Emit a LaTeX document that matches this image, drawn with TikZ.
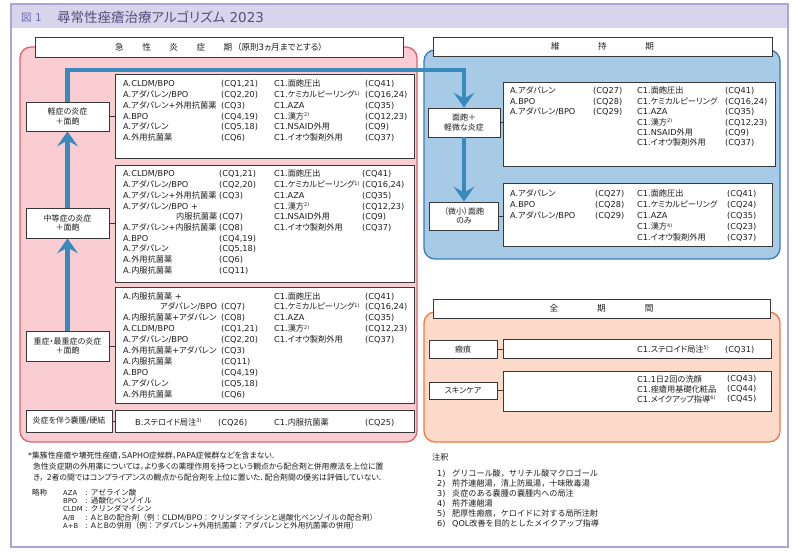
\documentclass[tikz,border=0pt]{standalone}
\usepackage{fontspec}
\setmainfont{DejaVu Sans}
\newfontfamily\cjkfont[RawFeature=+palt]{Noto Sans CJK JP}
\newfontfamily\cjkfontnp{Noto Sans CJK JP}
\XeTeXinterchartokenstate=1
\chardef\cjkcls=11
\newcount\cjkcnt
\def\setcjkrange#1#2{\cjkcnt=#1\relax\loop\XeTeXcharclass\cjkcnt=\cjkcls\relax\advance\cjkcnt by 1\relax\ifnum\cjkcnt<#2\relax\repeat}
\setcjkrange{"3000}{"3100}
\setcjkrange{"3400}{"4DC0}
\setcjkrange{"4E00}{"A000}
\setcjkrange{"FF00}{"FFF0}
\XeTeXinterchartoks 0 \cjkcls = {\begingroup\cjkfont}
\XeTeXinterchartoks 4095 \cjkcls = {\begingroup\cjkfont}
\XeTeXinterchartoks \cjkcls 0 = {\endgroup}
\XeTeXinterchartoks \cjkcls 4095 = {\endgroup}
\usetikzlibrary{arrows.meta}
\definecolor{framec}{HTML}{ADA5D6}
\definecolor{titlebg}{HTML}{D8D4EC}
\definecolor{titleA}{HTML}{6868B4}
\definecolor{titleB}{HTML}{54507A}
\definecolor{pinkbg}{HTML}{F9CDD1}
\definecolor{pinkline}{HTML}{E4606E}
\definecolor{bluebg}{HTML}{A7CBE7}
\definecolor{blueline}{HTML}{3D7AB4}
\definecolor{orangebg}{HTML}{FCD9C9}
\definecolor{orangeline}{HTML}{F27C3E}
\definecolor{arrowc}{HTML}{3A89BD}
\definecolor{boxc}{HTML}{383838}
\definecolor{textc}{HTML}{1E1E1E}
\newcommand\supn[1]{\raisebox{2.6pt}{\fontsize{5}{5}\selectfont #1}}
\newcommand\tcol[5]{\foreach \itm [count=\rowk] in {#5}{\node[txt] (#1-\rowk) at (#2,{#3+(\rowk-1)*#4}) {\itm};}}
\newcommand\acol[6]{\foreach \itm [count=\rowk] in {#6}{\node[#5] (#1-\rowk) at (#2,{#3+(\rowk-1)*#4}) {\itm};}}
\tikzset{
 lbox/.style={draw=boxc, line width=0.9pt, fill=white, inner sep=0pt},
 sbox/.style={draw=boxc, line width=0.9pt, fill=white, inner sep=0pt, align=center, text=textc, font=\fontsize{8}{9.5}\selectfont},
 hdrbox/.style={draw=boxc, line width=0.9pt, fill=white, inner sep=0pt, text=textc, font=\fontsize{8.6}{10}\selectfont},
 txt/.style={anchor=base west, inner sep=0pt, text=textc, font=\fontsize{8.2}{10}\selectfont},
 notetxt/.style={anchor=base west, inner sep=0pt, text=textc, font=\fontsize{7.85}{9}\selectfont},
 abbtxt/.style={anchor=base west, inner sep=0pt, text=textc, font=\let\cjkfont\cjkfontnp\fontsize{7.6}{9}\selectfont},
 abbname/.style={anchor=base west, inner sep=0pt, text=textc, font=\fontsize{6.8}{9}\selectfont},
 remtxt/.style={anchor=base west, inner sep=0pt, text=textc, font=\let\cjkfont\cjkfontnp\fontsize{8.1}{9}\selectfont},
 barrow/.style={draw=arrowc, line width=4.5pt, -{Stealth[length=15pt,width=21pt,inset=6pt]}},
 conn/.style={draw=boxc, line width=0.9pt},
 panel/.style={line width=1.3pt, rounded corners=11pt}
}
\begin{document}
\begin{tikzpicture}[x=1pt,y=-1pt]
\fill[white] (0,0) rectangle (798,556);
\useasboundingbox (0,0) rectangle (798,556);
% outer frame and title
\fill[titlebg] (11,4) rectangle (788,28);
\draw[framec, line width=1.5pt] (11,4) rectangle (788,547);
\node[anchor=base west, inner sep=0pt, text=titleA, font=\fontsize{10.5}{11}\selectfont] (ttlA) at (21,22) {図 1};
\node[anchor=base west, inner sep=0pt, text=titleB, font=\fontsize{13.5}{14}\selectfont] (ttlB) at (57,22.5) {尋常性痤瘡治療アルゴリズム 2023};
% panels
\draw[panel, draw=pinkline, fill=pinkbg] (20,47) rectangle (417,442);
\draw[panel, draw=blueline, fill=bluebg] (424,50) rectangle (780,259);
\draw[panel, draw=orangeline, fill=orangebg] (424,312) rectangle (780,442);
% headers
\node[hdrbox, minimum width=368pt, minimum height=20pt] (hdrA) at (219,47) {急\hskip18.5pt 性\hskip18.5pt 炎\hskip18.5pt 症\hskip18.5pt 期\hskip5pt（原則3ヵ月までとする）};
\node[hdrbox, minimum width=339pt, minimum height=19pt] (hdrB) at (602.5,46.5) {維\hskip38.5pt 持\hskip38.5pt 期};
\node[hdrbox, minimum width=337pt, minimum height=19pt] (hdrC) at (601.5,308.5) {全\hskip39pt 期\hskip39pt 間};
% state boxes
\node[sbox, minimum width=83pt, minimum height=29pt] (mild) at (67.5,116.5) {軽症の炎症\\＋面皰};
\node[sbox, minimum width=83pt, minimum height=30pt] (moder) at (67.5,223) {中等症の炎症\\＋面皰};
\node[sbox, minimum width=83pt, minimum height=30pt] (sever) at (67.5,346) {重症・最重症の炎症\\＋面皰};
\node[sbox, minimum width=86pt, minimum height=22pt] (cyst) at (69,421) {炎症を伴う嚢腫/硬結};
\node[sbox, minimum width=72pt, minimum height=29pt] (cm1) at (464,122.5) {面皰＋\\軽微な炎症};
\node[sbox, minimum width=69pt, minimum height=28pt] (micro) at (464,216) {（微小）面皰\\のみ};
\node[sbox, minimum width=68pt, minimum height=18pt] (scar) at (463,349) {瘢痕};
\node[sbox, minimum width=68pt, minimum height=17pt] (skin) at (463,390.5) {スキンケア};
% list boxes
\node[lbox, minimum width=299pt, minimum height=84pt] (L1) at (264.5,116) {};
\node[lbox, minimum width=299pt, minimum height=117pt] (L2) at (264.5,223.5) {};
\node[lbox, minimum width=299pt, minimum height=116pt] (L3) at (264.5,345) {};
\node[lbox, minimum width=299pt, minimum height=22pt] (L4) at (264.5,421) {};
\node[lbox, minimum width=272pt, minimum height=84pt] (M1) at (639,124) {};
\node[lbox, minimum width=269pt, minimum height=63pt] (M2) at (637.5,214.5) {};
\node[lbox, minimum width=268pt, minimum height=19pt] (S1) at (637,348.5) {};
\node[lbox, minimum width=268pt, minimum height=40pt] (S2) at (637,391) {};
% connectors
\draw[conn] (mild.east) -- (L1.west |- mild.east);
\draw[conn] (moder.east) -- (L2.west |- moder.east);
\draw[conn] (sever.east) -- (L3.west |- sever.east);
\draw[conn] (cyst.east) -- (L4.west |- cyst.east);
\draw[conn] (cm1.east) -- (M1.west |- cm1.east);
\draw[conn] (micro.east) -- (M2.west |- micro.east);
\draw[conn] (scar.east) -- (S1.west |- scar.east);
\draw[conn] (skin.east) -- (S2.west |- skin.east);
% blue arrows
\coordinate (turnL) at (67.5,70);
\draw[barrow] (sever.north) -- (moder.south);
\draw[barrow] (moder.north) -- (mild.south);
\draw[barrow] (mild.north) -- (turnL) -| (cm1.north);
\draw[barrow] (cm1.south) -- (cm1.south |- micro.north);
% list 1
\tcol{L1a}{123}{87}{10.7}{{A.CLDM/BPO},{A.アダパレン/BPO},{A.アダパレン+外用抗菌薬},{A.BPO},{A.アダパレン},{A.外用抗菌薬}}
\tcol{L1b}{221}{87}{10.7}{{(CQ1,21)},{(CQ2,20)},{(CQ3)},{(CQ4,19)},{(CQ5,18)},{(CQ6)}}
\tcol{L1c}{274}{87}{10.7}{{C1.面皰圧出},{C1.ケミカルピーリング\supn{1)}},{C1.AZA},{C1.漢方\supn{2)}},{C1.NSAID外用},{C1.イオウ製剤外用}}
\tcol{L1d}{365}{87}{10.7}{{(CQ41)},{(CQ16,24)},{(CQ35)},{(CQ12,23)},{(CQ9)},{(CQ37)}}
% list 2
\tcol{L2a}{123}{177}{10.67}{{A.CLDM/BPO},{A.アダパレン/BPO},{A.アダパレン+外用抗菌薬},{A.アダパレン/BPO +},{\makebox[94pt][r]{内服抗菌薬}},{A.アダパレン+内服抗菌薬},{A.BPO},{A.アダパレン},{A.外用抗菌薬},{A.内服抗菌薬}}
\tcol{L2b}{219}{177}{10.67}{{(CQ1,21)},{(CQ2,20)},{(CQ3)}}
\tcol{L2e}{219}{219.68}{10.67}{{(CQ7)},{(CQ8)},{(CQ4,19)},{(CQ5,18)},{(CQ6)},{(CQ11)}}
\tcol{L2c}{274}{177}{10.67}{{C1.面皰圧出},{C1.ケミカルピーリング\supn{1)}},{C1.AZA},{C1.漢方\supn{2)}},{C1.NSAID外用},{C1.イオウ製剤外用}}
\tcol{L2d}{362}{177}{10.67}{{(CQ41)},{(CQ16,24)},{(CQ35)},{(CQ12,23)},{(CQ9)},{(CQ37)}}
% list 3
\tcol{L3a}{123}{299}{10.95}{{A.内服抗菌薬 +},{\makebox[94pt][r]{アダパレン/BPO}},{A.内服抗菌薬+アダパレン},{A.CLDM/BPO},{A.アダパレン/BPO},{A.外用抗菌薬+アダパレン},{A.内服抗菌薬},{A.BPO},{A.アダパレン},{A.外用抗菌薬}}
\tcol{L3b}{221}{309.95}{10.95}{{(CQ7)},{(CQ8)},{(CQ1,21)},{(CQ2,20)},{(CQ3)},{(CQ11)},{(CQ4,19)},{(CQ5,18)},{(CQ6)}}
\tcol{L3c}{274}{299}{10.95}{{C1.面皰圧出},{C1.ケミカルピーリング\supn{1)}},{C1.AZA},{C1.漢方\supn{2)}},{C1.イオウ製剤外用}}
\tcol{L3d}{365}{299}{10.95}{{(CQ41)},{(CQ16,24)},{(CQ35)},{(CQ12,23)},{(CQ37)}}
% list 4
\node[txt] (L4a) at (135,425) {B.ステロイド局注\supn{3)}};
\node[txt] (L4b) at (218,425) {(CQ26)};
\node[txt] (L4c) at (274,425) {C1.内服抗菌薬};
\node[txt] (L4d) at (365,425) {(CQ25)};
% maintenance 1
\tcol{M1a}{510}{94}{10.4}{{A.アダパレン},{A.BPO},{A.アダパレン/BPO}}
\tcol{M1b}{593}{94}{10.4}{{(CQ27)},{(CQ28)},{(CQ29)}}
\tcol{M1c}{637}{94}{10.4}{{C1.面皰圧出},{C1.ケミカルピーリング},{C1.AZA},{C1.漢方\supn{2)}},{C1.NSAID外用},{C1.イオウ製剤外用}}
\tcol{M1d}{725}{94}{10.4}{{(CQ41)},{(CQ16,24)},{(CQ35)},{(CQ12,23)},{(CQ9)},{(CQ37)}}
% maintenance 2
\tcol{M2a}{510}{197}{10.9}{{A.アダパレン},{A.BPO},{A.アダパレン/BPO}}
\tcol{M2b}{595}{197}{10.9}{{(CQ27)},{(CQ28)},{(CQ29)}}
\tcol{M2c}{637}{197}{10.9}{{C1.面皰圧出},{C1.ケミカルピーリング},{C1.AZA},{C1.漢方\supn{4)}},{C1.イオウ製剤外用}}
\tcol{M2d}{727}{197}{10.9}{{(CQ41)},{(CQ24)},{(CQ35)},{(CQ23)},{(CQ37)}}
% all periods
\node[txt] (S1a) at (637,352) {C1.ステロイド局注\supn{5)}};
\node[txt] (S1b) at (725,352) {(CQ31)};
\tcol{S2a}{637}{382}{10}{{C1.1日2回の洗顔},{C1.痤瘡用基礎化粧品},{C1.メイクアップ指導\supn{6)}}}
\tcol{S2b}{727}{381}{10}{{(CQ43)},{(CQ44)},{(CQ45)}}
% notes left
\node[notetxt] (n1) at (28,458) {*集簇性痤瘡や壊死性痤瘡，SAPHO症候群，PAPA症候群などを含まない．};
\node[notetxt] (n2) at (33,469) {急性炎症期の外用薬については，より多くの薬理作用を持つという観点から配合剤と併用療法を上位に置};
\node[notetxt] (n3) at (33,480) {き，\hskip3pt 2者の間ではコンプライアンスの観点から配合剤を上位に置いた．配合剤間の優劣は評価していない．};
\node[abbtxt] (ab0) at (32,495) {略称};
\acol{aba}{63}{495}{8.4}{abbname}{{AZA},{BPO},{CLDM},{A/B},{A+B}}
\acol{abb}{85}{495}{8.4}{abbtxt}{{: アゼライン酸},{: 過酸化ベンゾイル},{: クリンダマイシン},{: AとBの配合剤（例：CLDM/BPO：クリンダマイシンと過酸化ベンゾイルの配合剤）},{: AとBの併用（例：アダパレン+外用抗菌薬：アダパレンと外用抗菌薬の併用）}}
% notes right
\node[remtxt] (rm0) at (432,460) {注釈};
\acol{rma}{437}{476}{10}{remtxt}{{1)},{2)},{3)},{4)},{5)},{6)}}
\acol{rmb}{452}{476}{10}{remtxt}{{グリコール酸，サリチル酸マクロゴール},{荊芥連翹湯，清上防風湯，十味敗毒湯},{炎症のある嚢腫の嚢腫内への局注},{荊芥連翹湯},{肥厚性瘢痕，ケロイドに対する局所注射},{QOL改善を目的としたメイクアップ指導}}
\end{tikzpicture}
\end{document}
